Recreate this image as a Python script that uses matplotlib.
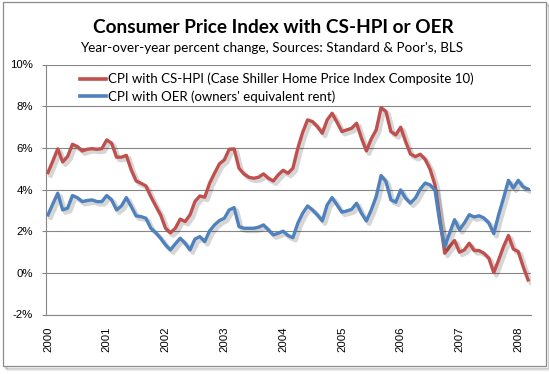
import numpy as np
import matplotlib
matplotlib.use("Agg")
import matplotlib.pyplot as plt
import matplotlib.patheffects as pe
from matplotlib.patches import Rectangle

# monthly, Jan 2000 .. Mar 2008 (year-over-year %)
YEARS = [str(y) for y in range(2000, 2009)]
CPI_CSHPI = [
    4.81, 5.37, 5.95, 5.32, 5.58, 6.17, 6.06, 5.85, 5.93, 5.96, 5.93, 5.96,
    6.38, 6.22, 5.55, 5.55, 5.64, 4.94, 4.41, 4.30, 4.17, 3.66, 3.21, 2.78,
    2.14, 1.92, 2.14, 2.58, 2.46, 2.78, 3.42, 3.69, 3.63, 4.30, 4.78, 5.23,
    5.42, 5.93, 5.95, 5.02, 4.75, 4.59, 4.54, 4.59, 4.75, 4.54, 4.41, 4.70,
    4.92, 4.78, 5.02, 5.98, 6.75, 7.34, 7.26, 7.02, 6.70, 7.34, 7.66, 7.23,
    6.78, 6.86, 6.94, 7.18, 6.46, 5.85, 6.43, 6.86, 7.93, 7.74, 6.78, 6.62,
    6.99, 6.30, 5.70, 5.58, 5.69, 5.45, 4.97, 4.22, 2.54, 0.94, 1.26, 1.55,
    0.99, 1.10, 1.42, 1.07, 1.07, 0.94, 0.70, 0.01, 0.62, 1.26, 1.79, 1.14,
    1.02, 0.30, -0.34,
]
CPI_OER = [
    2.78, 3.31, 3.82, 3.02, 3.10, 3.71, 3.61, 3.42, 3.47, 3.50, 3.42, 3.42,
    3.71, 3.50, 3.02, 3.21, 3.61, 3.18, 2.73, 2.70, 2.62, 2.14, 1.93, 1.66,
    1.34, 1.10, 1.39, 1.66, 1.42, 1.10, 1.62, 1.74, 1.50, 2.01, 2.30, 2.51,
    2.62, 3.02, 3.13, 2.22, 2.14, 2.14, 2.14, 2.19, 2.30, 2.06, 1.82, 1.90,
    2.00, 1.79, 1.69, 2.38, 2.86, 3.21, 3.02, 2.78, 2.49, 3.26, 3.61, 3.26,
    2.91, 2.97, 3.05, 3.34, 2.86, 2.49, 3.02, 3.66, 4.67, 4.38, 3.50, 3.39,
    3.98, 3.58, 3.35, 3.59, 4.02, 4.31, 4.22, 3.98, 2.39, 1.27, 1.91, 2.55,
    2.07, 2.39, 2.79, 2.68, 2.74, 2.63, 2.39, 1.88, 2.79, 3.59, 4.44, 4.07,
    4.44, 4.12, 4.02,
]
LABELS = ["CPI with CS-HPI (Case Shiller Home Price Index Composite 10)",
          "CPI with OER (owners' equivalent rent)"]
TITLE = "Consumer Price Index with CS-HPI or OER"
SUBTITLE = "Year-over-year percent change, Sources: Standard & Poor's, BLS"

RED = "#C0504D"
BLUE = "#4F81BD"
GRID = "#868686"

W, H = 549, 374
fig = plt.figure(figsize=(W / 100, H / 100), dpi=100)
fig.patch.set_facecolor("white")

# chart-area frame with a soft shadow
for k, a in ((4, 0.06), (3, 0.10), (2, 0.16)):
    fig.add_artist(Rectangle((3 / W + k / W, 1 - 366 / H - k / H), 543 / W, 364 / H,
                             transform=fig.transFigure, facecolor="none",
                             edgecolor="black", alpha=a, lw=1.0, zorder=0))
fig.add_artist(Rectangle((3 / W, 1 - 366 / H), 543 / W, 364 / H,
                         transform=fig.transFigure, facecolor="white",
                         edgecolor="#8C8C8C", lw=0.9, zorder=0.5))

ax = fig.add_axes([45.5 / W, 1 - 314.5 / H, (530.5 - 45.5) / W, (314.5 - 64.5) / H])
ax.set_facecolor("none")
ax.set_zorder(2)

x = np.arange(len(CPI_CSHPI))
shadow = [pe.SimpleLineShadow(offset=(2, -2), shadow_color="black", alpha=0.16, linewidth=3.2),
          pe.Normal()]
l1, = ax.plot(x, CPI_CSHPI, color=RED, lw=2.4, solid_joinstyle="round",
              path_effects=shadow, zorder=3)
l2, = ax.plot(x, CPI_OER, color=BLUE, lw=2.4, solid_joinstyle="round",
              path_effects=shadow, zorder=4)

ax.set_xlim(-0.5, len(x) - 0.5)
ax.set_ylim(-2, 10)
ax.set_yticks(range(-2, 11, 2))
ax.set_yticklabels([f"{v}%" for v in range(-2, 11, 2)])
ax.set_xticks(range(0, len(x), 12))
ax.set_xticklabels(YEARS, rotation=90)

ax.yaxis.grid(True, color=GRID, lw=0.8)
ax.set_axisbelow(True)
for s in ("top", "right"):
    ax.spines[s].set_visible(False)
for s in ("left", "bottom"):
    ax.spines[s].set_color(GRID)
    ax.spines[s].set_linewidth(0.8)

ax.tick_params(axis="y", length=3, width=0.8, color=GRID, pad=6,
               labelsize=8.2, labelfontfamily="Liberation Sans")
ax.tick_params(axis="x", length=0, pad=9, labelsize=8.2, labelfontfamily="Liberation Sans")

fig.text(273 / W, 1 - 32.7 / H, TITLE, ha="center", va="baseline",
         fontsize=13.7, fontweight="bold", family="Lato", zorder=3)
fig.text(272 / W, 1 - 52.3 / H, SUBTITLE, ha="center", va="baseline",
         fontsize=9.7, family="Lato", zorder=3)

leg = ax.legend([l1, l2], LABELS, loc="center left", bbox_to_anchor=(80 / W, 1 - 88 / H),
                bbox_transform=fig.transFigure, frameon=False,
                prop={"family": "Lato", "size": 9.5},
                handlelength=2.0, handletextpad=0.15, labelspacing=0.38, borderpad=0,
                borderaxespad=0)
for h in leg.get_lines():
    h.set_path_effects([])
    h.set_linewidth(2.6)

fig.savefig("out.png", dpi=100, facecolor="white")
